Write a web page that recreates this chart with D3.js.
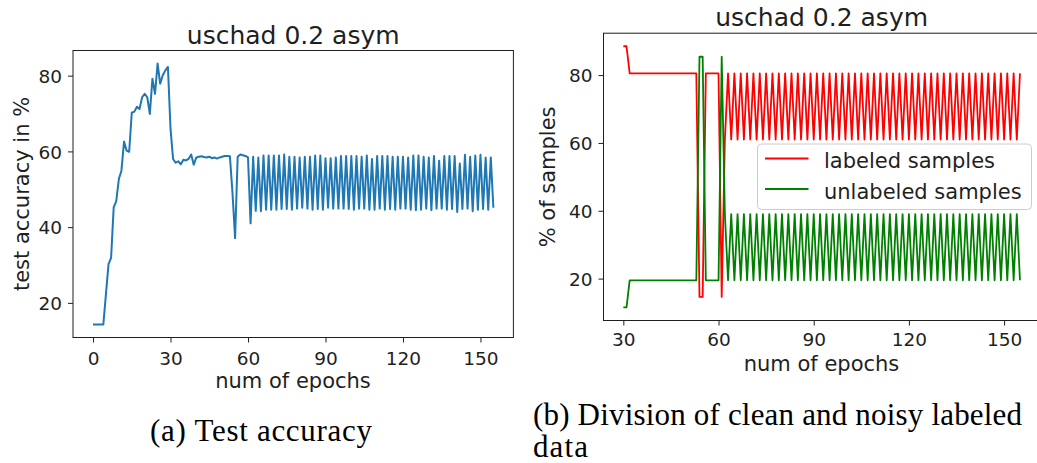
<!DOCTYPE html>
<html>
<head>
<meta charset="utf-8">
<script src="https://cdn.jsdelivr.net/npm/d3@7"></script>
<style>
  html, body { margin: 0; padding: 0; background: #ffffff; }
  svg { display: block; }
  .sans { font-family: "DejaVu Sans", sans-serif; fill: #1f1f1f; }
  .serif { font-family: "Liberation Serif", "DejaVu Serif", serif; fill: #000000; }
</style>
</head>
<body>
<svg id="fig" width="1037" height="463"></svg>
<script>
// ---------- data ----------
const chartTitle = "uschad 0.2 asym";

// (a) test accuracy per epoch, epochs 0..155
const accStartEpoch = 0;
const testAccuracy = [
  14.3, 14.3, 14.3, 14.3, 14.3, 22.3, 30.2, 31.9, 45.2, 46.9,
  52.7, 54.9, 62.6, 60.2, 59.9, 70.2, 70.5, 71.8, 71.2, 74.3,
  75.2, 74.3, 69.9, 79.2, 75.2, 83.2, 77.9, 80.1, 81.4, 82.3,
  66.0, 58.0, 57.0, 57.4, 56.6, 57.8, 57.6, 58.0, 59.2, 56.5,
  58.4, 58.6, 58.7, 58.5, 58.4, 58.6, 58.2, 58.4, 58.1, 58.4,
  58.6, 58.8, 58.8, 58.7, 49.0, 37.1, 58.6, 59.2, 59.0, 58.8,
  58.4, 41.0, 58.6, 44.3, 58.4, 44.2, 58.9, 44.6, 58.9, 44.6,
  58.9, 44.6, 58.9, 44.8, 59.2, 44.8, 58.6, 44.6, 58.6, 44.9,
  58.4, 45.1, 58.6, 44.9, 58.6, 44.6, 58.9, 44.8, 58.9, 44.6,
  58.2, 45.1, 58.2, 44.9, 58.4, 44.9, 58.8, 44.9, 58.8, 44.8,
  58.8, 44.6, 58.8, 44.9, 58.6, 44.9, 58.9, 44.6, 58.0, 44.6,
  58.8, 44.9, 58.8, 44.6, 58.8, 44.8, 58.6, 44.6, 58.6, 44.9,
  58.6, 44.9, 58.4, 44.6, 58.9, 44.5, 58.9, 44.6, 58.6, 44.9,
  58.4, 44.5, 58.8, 44.9, 57.5, 44.9, 58.8, 44.6, 58.8, 44.8,
  58.8, 44.0, 56.8, 44.8, 59.1, 44.9, 58.6, 44.2, 58.9, 44.6,
  59.1, 44.8, 58.4, 44.6, 58.4, 45.1
];

// (b) share of samples per epoch, epochs 30..155
const splitStartEpoch = 30;
const labeledShare = [
  88.5, 88.5, 80.5, 80.5, 80.5, 80.5, 80.5, 80.5, 80.5, 80.5,
  80.5, 80.5, 80.5, 80.5, 80.5, 80.5, 80.5, 80.5, 80.5, 80.5,
  80.5, 80.5, 80.5, 80.5, 14.6, 14.6, 80.5, 80.5, 80.5, 80.5,
  80.5, 14.6, 61.0, 80.5, 61.0, 80.5, 61.0, 80.5, 61.0, 80.5,
  61.0, 80.5, 61.0, 80.5, 61.0, 80.5, 61.0, 80.5, 61.0, 80.5,
  61.0, 80.5, 61.0, 80.5, 61.0, 80.5, 61.0, 80.5, 61.0, 80.5,
  61.0, 80.5, 61.0, 80.5, 61.0, 80.5, 61.0, 80.5, 61.0, 80.5,
  61.0, 80.5, 61.0, 80.5, 61.0, 80.5, 61.0, 80.5, 61.0, 80.5,
  61.0, 80.5, 61.0, 80.5, 61.0, 80.5, 61.0, 80.5, 61.0, 80.5,
  61.0, 80.5, 61.0, 80.5, 61.0, 80.5, 61.0, 80.5, 61.0, 80.5,
  61.0, 80.5, 61.0, 80.5, 61.0, 80.5, 61.0, 80.5, 61.0, 80.5,
  61.0, 80.5, 61.0, 80.5, 61.0, 80.5, 61.0, 80.5, 61.0, 80.5,
  61.0, 80.5, 61.0, 80.5, 61.0, 80.5
];
const unlabeledShare = [
  11.5, 11.5, 19.5, 19.5, 19.5, 19.5, 19.5, 19.5, 19.5, 19.5,
  19.5, 19.5, 19.5, 19.5, 19.5, 19.5, 19.5, 19.5, 19.5, 19.5,
  19.5, 19.5, 19.5, 19.5, 85.4, 85.4, 19.5, 19.5, 19.5, 19.5,
  19.5, 85.4, 39.0, 19.5, 39.0, 19.5, 39.0, 19.5, 39.0, 19.5,
  39.0, 19.5, 39.0, 19.5, 39.0, 19.5, 39.0, 19.5, 39.0, 19.5,
  39.0, 19.5, 39.0, 19.5, 39.0, 19.5, 39.0, 19.5, 39.0, 19.5,
  39.0, 19.5, 39.0, 19.5, 39.0, 19.5, 39.0, 19.5, 39.0, 19.5,
  39.0, 19.5, 39.0, 19.5, 39.0, 19.5, 39.0, 19.5, 39.0, 19.5,
  39.0, 19.5, 39.0, 19.5, 39.0, 19.5, 39.0, 19.5, 39.0, 19.5,
  39.0, 19.5, 39.0, 19.5, 39.0, 19.5, 39.0, 19.5, 39.0, 19.5,
  39.0, 19.5, 39.0, 19.5, 39.0, 19.5, 39.0, 19.5, 39.0, 19.5,
  39.0, 19.5, 39.0, 19.5, 39.0, 19.5, 39.0, 19.5, 39.0, 19.5,
  39.0, 19.5, 39.0, 19.5, 39.0, 19.5
];

const accXTicks = [0, 30, 60, 90, 120, 150];
const accYTicks = [20, 40, 60, 80];
const splitXTicks = [30, 60, 90, 120, 150];
const splitYTicks = [20, 40, 60, 80];
const seriesNames = ["labeled samples", "unlabeled samples"];
const xLabel = "num of epochs";
const accYLabel = "test accuracy in %";
const splitYLabel = "% of samples";
const captionA = "(a) Test accuracy";
const captionB1 = "(b) Division of clean and noisy labeled";
const captionB2 = "data";

// ---------- drawing ----------
const svg = d3.select("#fig");
const ink = "#1f1f1f";
const tickFont = 18.5;

// pad a [min,max] extent by 5% on each side, as matplotlib autoscaling does
function padded(lo, hi) {
  const m = (hi - lo) * 0.05;
  return [lo - m, hi + m];
}

function panel(cfg) {
  const g = svg.append("g");
  const { box } = cfg;
  const x = d3.scaleLinear().domain(padded(cfg.xMin, cfg.xMax)).range([box.left, box.right]);
  const y = d3.scaleLinear().domain(padded(cfg.yMin, cfg.yMax)).range([box.bottom, box.top]);

  const clipId = "clip" + cfg.id;
  g.append("clipPath").attr("id", clipId).append("rect")
    .attr("x", box.left).attr("y", box.top)
    .attr("width", box.right - box.left).attr("height", box.bottom - box.top);

  // series
  const plot = g.append("g").attr("clip-path", `url(#${clipId})`);
  cfg.series.forEach(s => {
    const line = d3.line()
      .x((d, i) => x(cfg.start + i))
      .y(d => y(d));
    plot.append("path")
      .datum(s.values)
      .attr("d", line)
      .attr("fill", "none")
      .attr("stroke", s.color)
      .attr("stroke-width", s.width)
      .attr("stroke-linejoin", "round");
  });

  // x axis
  const xAxis = d3.axisBottom(x).tickValues(cfg.xTicks).tickSize(5).tickSizeOuter(0);
  const gx = g.append("g").attr("transform", `translate(0,${box.bottom})`).call(xAxis);
  gx.select(".domain").remove();
  gx.selectAll(".tick line").attr("stroke", ink).attr("stroke-width", 1);
  gx.selectAll(".tick text")
    .attr("class", "sans").attr("fill", ink)
    .attr("font-size", tickFont).attr("dy", null).attr("y", cfg.xTickBaseline);

  // y axis
  const yAxis = d3.axisLeft(y).tickValues(cfg.yTicks).tickSize(5).tickSizeOuter(0).tickPadding(6);
  const gy = g.append("g").attr("transform", `translate(${box.left},0)`).call(yAxis);
  gy.select(".domain").remove();
  gy.selectAll(".tick line").attr("stroke", ink).attr("stroke-width", 1);
  gy.selectAll(".tick text")
    .attr("class", "sans").attr("fill", ink)
    .attr("font-size", tickFont).attr("dy", "0.36em");

  // frame
  g.append("rect")
    .attr("x", box.left).attr("y", box.top)
    .attr("width", box.right - box.left).attr("height", box.bottom - box.top)
    .attr("fill", "none").attr("stroke", ink).attr("stroke-width", 1);

  // title and labels
  g.append("text").attr("class", "sans")
    .attr("x", (box.left + box.right) / 2).attr("y", cfg.titleBaseline)
    .attr("text-anchor", "middle").attr("font-size", 25)
    .text(chartTitle);
  g.append("text").attr("class", "sans")
    .attr("x", cfg.xLabelX).attr("y", cfg.xLabelBaseline)
    .attr("text-anchor", "middle").attr("font-size", 21)
    .text(xLabel);
  g.append("text").attr("class", "sans")
    .attr("transform", `translate(${cfg.yLabelX},${(box.top + box.bottom) / 2}) rotate(-90)`)
    .attr("text-anchor", "middle").attr("font-size", 21)
    .text(cfg.yLabel);

  return { g, x, y };
}

// (a) test accuracy
panel({
  id: "A",
  box: { left: 73, right: 513.4, top: 50.5, bottom: 337.5 },
  start: accStartEpoch,
  xMin: accStartEpoch, xMax: accStartEpoch + testAccuracy.length - 1,
  yMin: d3.min(testAccuracy), yMax: d3.max(testAccuracy),
  xTicks: accXTicks, yTicks: accYTicks,
  series: [{ values: testAccuracy, color: "#1f77b4", width: 2 }],
  xTickBaseline: 27.5,
  titleBaseline: 43.5,
  xLabelX: 293, xLabelBaseline: 387.5,
  yLabelX: 29, yLabel: accYLabel
});

// (b) division of labeled / unlabeled samples
const allShares = labeledShare.concat(unlabeledShare);
const pB = panel({
  id: "B",
  box: { left: 603.5, right: 1039.8, top: 33.2, bottom: 320.5 },
  start: splitStartEpoch,
  xMin: splitStartEpoch, xMax: splitStartEpoch + labeledShare.length - 1,
  yMin: d3.min(allShares), yMax: d3.max(allShares),
  xTicks: splitXTicks, yTicks: splitYTicks,
  series: [
    { values: labeledShare, color: "#ff0000", width: 1.8 },
    { values: unlabeledShare, color: "#008000", width: 1.8 }
  ],
  xTickBaseline: 25,
  titleBaseline: 25.5,
  xLabelX: 821.5, xLabelBaseline: 370.5,
  yLabelX: 555, yLabel: splitYLabel
});

// legend
const lg = pB.g.append("g");
lg.append("rect")
  .attr("x", 757.5).attr("y", 144).attr("width", 274).attr("height", 65.5)
  .attr("rx", 4).attr("ry", 4)
  .attr("fill", "#ffffff").attr("fill-opacity", 0.8)
  .attr("stroke", "#cccccc").attr("stroke-width", 1);
const legendColors = ["#ff0000", "#008000"];
seriesNames.forEach((name, i) => {
  const cy = 158.5 + i * 30.5;
  lg.append("line")
    .attr("x1", 765).attr("x2", 808.5).attr("y1", cy).attr("y2", cy)
    .attr("stroke", legendColors[i]).attr("stroke-width", 1.8);
  lg.append("text").attr("class", "sans")
    .attr("x", 824).attr("y", cy + 9.5)
    .attr("font-size", 21)
    .text(name);
});

// captions
svg.append("text").attr("class", "serif")
  .attr("x", 150).attr("y", 440.5).attr("font-size", 31)
  .attr("textLength", 222).attr("lengthAdjust", "spacing")
  .text(captionA);
svg.append("text").attr("class", "serif")
  .attr("x", 533).attr("y", 424.5).attr("font-size", 31)
  .attr("textLength", 489).attr("lengthAdjust", "spacing")
  .text(captionB1);
svg.append("text").attr("class", "serif")
  .attr("x", 533).attr("y", 457).attr("font-size", 31)
  .attr("textLength", 55).attr("lengthAdjust", "spacing")
  .text(captionB2);
</script>
</body>
</html>
